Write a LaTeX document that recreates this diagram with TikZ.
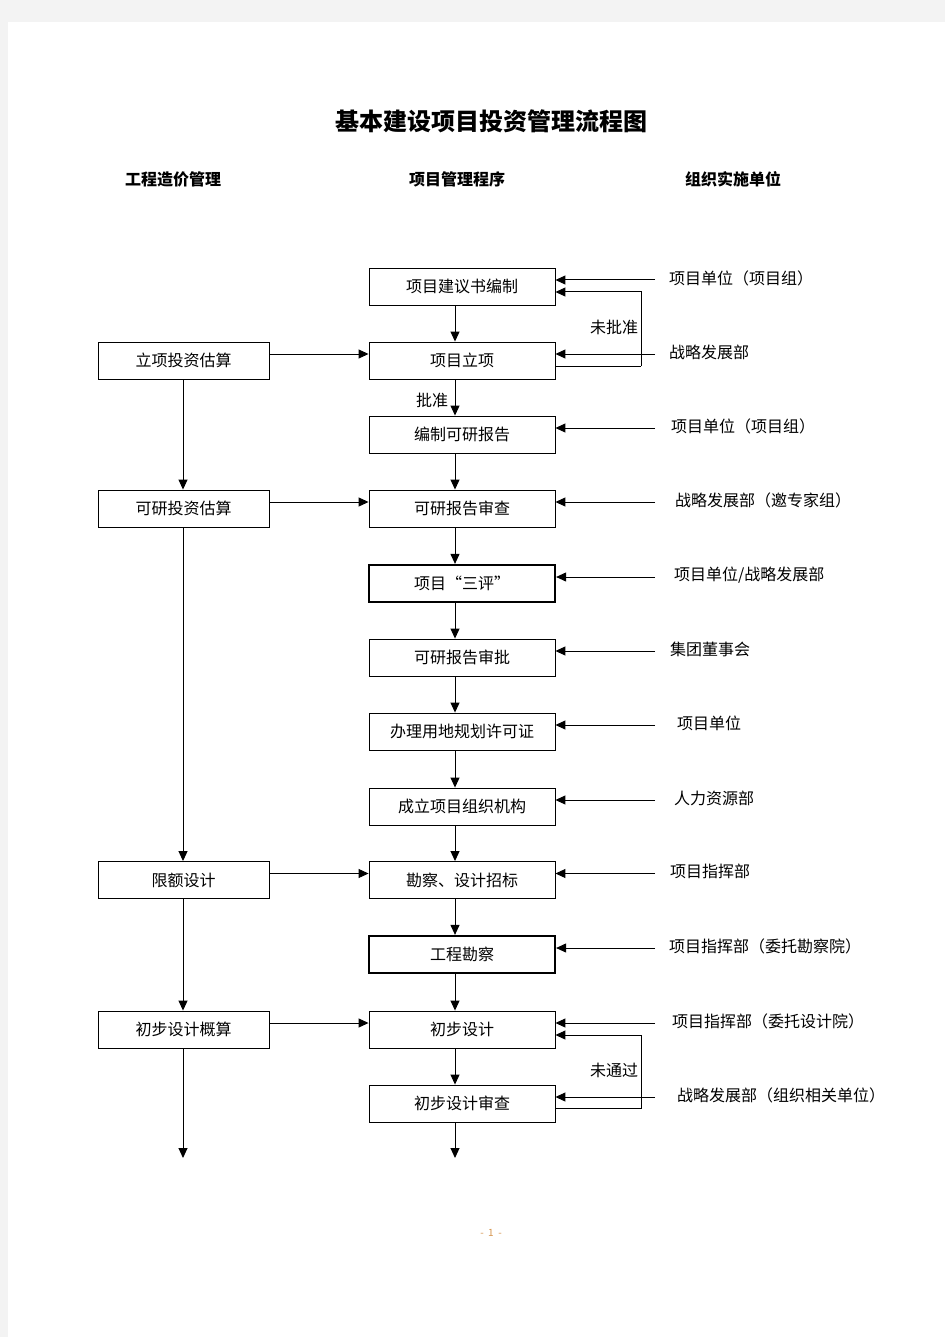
\documentclass[tikz,border=0pt]{standalone}
\usepackage{fontspec}
\setmainfont{Noto Sans CJK SC}
\usetikzlibrary{arrows.meta}
\definecolor{pagegray}{RGB}{243,243,243}
\definecolor{pnum}{RGB}{214,150,80}
\begin{document}
\begin{tikzpicture}[x=1pt,y=-1pt,
  arr/.style={draw=black,line width=1pt,-{Triangle[length=10pt,width=9pt]}},
  ln/.style={draw=black,line width=1pt},
  box/.style={draw=black,line width=0.9pt,minimum width=186pt,minimum height=37pt,inner sep=0pt,font=\fontsize{16}{18}\selectfont},
  tbox/.style={box,line width=2.2pt},
  lbox/.style={box,minimum width=171pt},
  lab/.style={anchor=west,inner sep=0pt,font=\fontsize{16}{18}\selectfont},
  clab/.style={inner sep=0pt,font=\fontsize{16}{18}\selectfont},
  head/.style={inner sep=0pt,font=\fontsize{16}{18}\selectfont\bfseries}]
\useasboundingbox (0,0) rectangle (945,1337);
\fill[pagegray] (0,0) rectangle (945,1337);
\fill[white] (8,22) rectangle (945,1337);
% title and headers
\node[inner sep=0pt,font=\fontsize{24}{28}\selectfont\bfseries] (title) at (491,121) {基本建设项目投资管理流程图};
\node[head] (h1) at (173,179) {工程造价管理};
\node[head] (h2) at (457,179) {项目管理程序};
\node[head] (h3) at (733,179) {组织实施单位};
% center column
\node[box] (b1) at (462,286.5) {项目建议书编制};
\node[box] (b2) at (462,360.5) {项目立项};
\node[box] (b3) at (462,434.5) {编制可研报告};
\node[box] (b4) at (462,508.5) {可研报告审查};
\node[tbox] (b5) at (462,583.5) {项目“三评”};
\node[box] (b6) at (462,657.5) {可研报告审批};
\node[box] (b7) at (462,731.5) {办理用地规划许可证};
\node[box] (b8) at (462,806.5) {成立项目组织机构};
\node[box] (b9) at (462,880) {勘察、设计招标};
\node[tbox] (b10) at (462,954.5) {工程勘察};
\node[box] (b11) at (462,1029.5) {初步设计};
\node[box] (b12) at (462,1103.5) {初步设计审查};
% left column
\node[lbox] (L1) at (183.5,360.5) {立项投资估算};
\node[lbox] (L2) at (183.5,508.5) {可研投资估算};
\node[lbox] (L3) at (183.5,880) {限额设计};
\node[lbox] (L4) at (183.5,1029.5) {初步设计概算};
% vertical arrows center
\foreach \a/\b in {b1/b2,b2/b3,b3/b4,b4/b5,b5/b6,b6/b7,b7/b8,b8/b9,b9/b10,b10/b11,b11/b12}
  \draw[arr] ([xshift=-7pt]\a.south) -- ([xshift=-7pt]\b.north);
\coordinate (cend) at (455,1158);
\draw[arr] ([xshift=-7pt]b12.south) -- (cend);
% vertical arrows left
\draw[arr] ([xshift=-0.5pt]L1.south) -- ([xshift=-0.5pt]L2.north);
\draw[arr] ([xshift=-0.5pt]L2.south) -- ([xshift=-0.5pt]L3.north);
\draw[arr] ([xshift=-0.5pt]L3.south) -- ([xshift=-0.5pt]L4.north);
\coordinate (lend) at (183,1158);
\draw[arr] ([xshift=-0.5pt]L4.south) -- (lend);
% horizontal arrows left to center
\foreach \a/\b in {L1/b2,L2/b4,L3/b9,L4/b11}
  \draw[arr] ([yshift=6.5pt]\a.east) -- ([yshift=6.5pt]\b.west);
% right side labels and arrows
\foreach \b/\lx/\t [count=\i] in {
  b1/669/{项目单位（项目组）},
  b2/669/{战略发展部},
  b3/671/{项目单位（项目组）},
  b4/675/{战略发展部（邀专家组）},
  b5/674/{项目单位/战略发展部},
  b6/670/{集团董事会},
  b7/677/{项目单位},
  b8/674/{人力资源部},
  b9/670/{项目指挥部},
  b10/669/{项目指挥部（委托勘察院）},
  b11/672/{项目指挥部（委托设计院）},
  b12/677/{战略发展部（组织相关单位）}} {
  \coordinate (r\i) at ([yshift=6.5pt]\b.east -| 655,0);
  \draw[arr] (r\i) -- ([yshift=6.5pt]\b.east);
  \node[lab] (t\i) at ([yshift=2pt]r\i -| \lx,0) {\t};
}
% loop 1: not approved
\coordinate (k1) at (641,366);
\coordinate (k2) at (641,292);
\draw[ln] ([yshift=-5.5pt]b2.east) -- (k1);
\draw[arr] (k1) -- (k2) -- ([yshift=-5.5pt]b1.east);
\node[clab] (n1) at (614,327) {未批准};
\node[clab] (n2) at (432,400) {批准};
% loop 2: not passed
\coordinate (k3) at (641,1108.5);
\coordinate (k4) at (641,1035);
\draw[ln] ([yshift=-5pt]b12.east) -- (k3);
\draw[arr] (k3) -- (k4) -- ([yshift=-5.5pt]b11.east);
\node[clab] (n3) at (614,1070) {未通过};
% page number
\node[inner sep=0pt,font=\fontsize{10}{12}\selectfont,text=pnum] (pg) at (491,1233) {-\ \ 1\ \ -};
\end{tikzpicture}
\end{document}
